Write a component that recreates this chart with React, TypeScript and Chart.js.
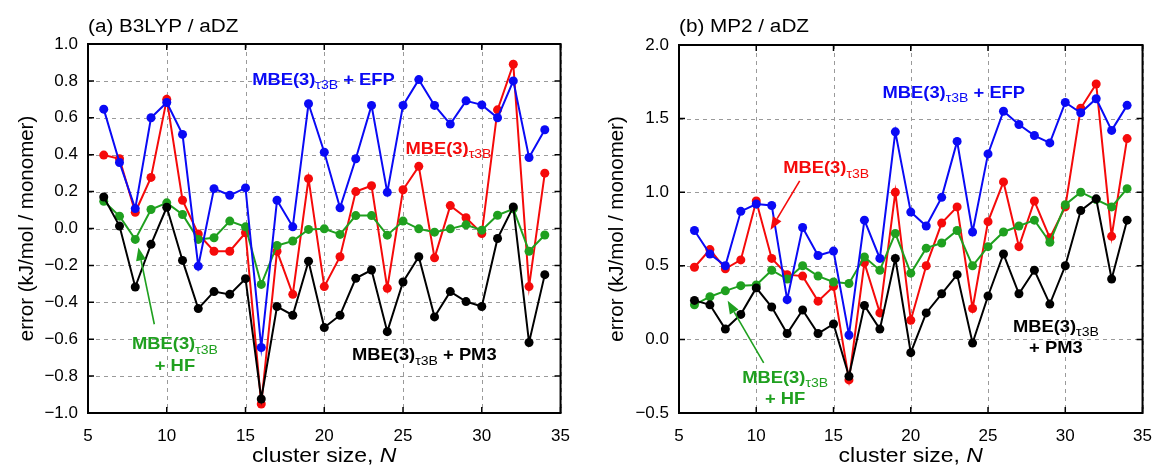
import React, { useEffect, useRef } from "react";
import { Chart, registerables } from "chart.js";

Chart.register(...registerables);

// ---------------- data ----------------
const clusterSizes = [6, 7, 8, 9, 10, 11, 12, 13, 14, 15, 16, 17, 18, 19, 20, 21, 22, 23, 24, 25, 26, 27, 28, 29, 30, 31, 32, 33, 34];

// (a) B3LYP / aDZ
const b3lypEFP = [0.647, 0.358, 0.108, 0.60, 0.683, 0.51, -0.204, 0.216, 0.18, 0.22, -0.645, 0.153, 0.009, 0.676, 0.413, 0.112, 0.378, 0.667, 0.196, 0.667, 0.807, 0.667, 0.566, 0.692, 0.67, 0.60, 0.80, 0.385, 0.535];
const b3lypTau = [0.398, 0.378, 0.088, 0.277, 0.70, 0.153, -0.03, -0.123, -0.123, -0.023, -0.951, -0.123, -0.357, 0.27, -0.315, -0.153, 0.20, 0.232, -0.324, 0.21, 0.337, -0.159, 0.124, 0.058, -0.027, 0.643, 0.89, -0.315, 0.30];
const b3lypHF = [0.148, 0.067, -0.059, 0.103, 0.139, 0.076, -0.059, -0.05, 0.04, 0.009, -0.303, -0.092, -0.068, -0.005, -0.002, -0.032, 0.07, 0.07, -0.036, 0.04, -0.002, -0.02, -0.002, 0.02, -0.009, 0.072, 0.106, -0.123, -0.035];
const b3lypPM3 = [0.171, 0.013, -0.317, -0.086, 0.115, -0.173, -0.434, -0.342, -0.357, -0.272, -0.924, -0.423, -0.47, -0.177, -0.537, -0.47, -0.27, -0.225, -0.559, -0.29, -0.153, -0.479, -0.342, -0.396, -0.423, -0.054, 0.117, -0.618, -0.25];

// (b) MP2 / aDZ
const mp2EFP = [0.74, 0.58, 0.50, 0.87, 0.92, 0.91, 0.27, 0.76, 0.57, 0.60, 0.03, 0.81, 0.55, 1.41, 0.865, 0.77, 0.965, 1.345, 0.73, 1.26, 1.55, 1.46, 1.385, 1.335, 1.61, 1.54, 1.635, 1.42, 1.59];
const mp2Tau = [0.49, 0.61, 0.48, 0.54, 0.94, 0.55, 0.44, 0.43, 0.26, 0.36, -0.275, 0.52, 0.18, 1.00, 0.13, 0.50, 0.79, 0.90, 0.21, 0.80, 1.07, 0.63, 0.94, 0.69, 0.90, 1.57, 1.735, 0.70, 1.364];
const mp2HF = [0.235, 0.29, 0.33, 0.365, 0.37, 0.47, 0.41, 0.50, 0.43, 0.39, 0.38, 0.56, 0.47, 0.72, 0.45, 0.62, 0.655, 0.74, 0.50, 0.63, 0.73, 0.77, 0.81, 0.66, 0.915, 1.00, 0.95, 0.90, 1.024];
const mp2PM3 = [0.265, 0.235, 0.07, 0.17, 0.35, 0.22, 0.04, 0.20, 0.04, 0.105, -0.25, 0.23, 0.07, 0.55, -0.09, 0.18, 0.31, 0.44, -0.025, 0.295, 0.58, 0.31, 0.47, 0.24, 0.50, 0.875, 0.955, 0.41, 0.81];

const xTicks = [5, 10, 15, 20, 25, 30, 35];
const yTicksA = [-1.0, -0.8, -0.6, -0.4, -0.2, 0.0, 0.2, 0.4, 0.6, 0.8, 1.0];
const yTicksB = [-0.5, 0.0, 0.5, 1.0, 1.5, 2.0];

const panelTitles = ["(a) B3LYP / aDZ", "(b) MP2 / aDZ"];
const yAxisTitle = "error (kJ/mol / monomer)";
const xAxisTitle = "cluster size, ";
const xAxisVar = "N";

// ---------------- styles ----------------
const FONT = '"Liberation Sans", Arial, Helvetica, sans-serif';
const BLUE = "#0a0af5";
const RED = "#f50a0a";
const GREEN = "#1fa01f";
const BLACK = "#000000";
const HS = 1.15; // horizontal stretch of the reference text

type Seg = { t: string; sub?: boolean };
type Label = { x: number; y: number; color: string; align: "left" | "center"; lines: Seg[][] };
type Arrow = { x1: number; y1: number; x2: number; y2: number; color: string };

const mbe = (tail: string): Seg[] => [{ t: "MBE(3)" }, { t: "τ3B", sub: true }, { t: tail }];

const labelsA: Label[] = [
  { x: 15.42, y: 0.78, color: BLUE, align: "left", lines: [mbe(" + EFP")] },
  { x: 25.15, y: 0.405, color: RED, align: "left", lines: [mbe("")] },
  { x: 10.52, y: -0.654, color: GREEN, align: "center", lines: [mbe(""), [{ t: "+ HF" }]] },
  { x: 21.76, y: -0.714, color: BLACK, align: "left", lines: [mbe(" + PM3")] },
];
const arrowsA: Arrow[] = [{ x1: 9.21, y1: -0.519, x2: 8.2, y2: -0.103, color: GREEN }];

const labelsB: Label[] = [
  { x: 18.17, y: 1.64, color: BLUE, align: "left", lines: [mbe(" + EFP")] },
  { x: 11.74, y: 1.13, color: RED, align: "left", lines: [mbe("")] },
  { x: 11.87, y: -0.296, color: GREEN, align: "center", lines: [mbe(""), [{ t: "+ HF" }]] },
  { x: 29.39, y: 0.051, color: BLACK, align: "center", lines: [mbe(""), [{ t: "+ PM3" }]] },
];
const arrowsB: Arrow[] = [
  { x1: 12.81, y1: 1.077, x2: 10.92, y2: 0.744, color: RED },
  { x1: 10.48, y1: -0.16, x2: 8.15, y2: 0.262, color: GREEN },
];

type PanelCfg = {
  title: string;
  yMin: number;
  yMax: number;
  yTicks: number[];
  series: { data: number[]; color: string }[];
  labels: Label[];
  arrows: Arrow[];
  width: number;
  yAxisWidth: number;
  padRight: number;
  padTop: number;
  yTitleX: number;
};

function fmt(v: number): string {
  if (Math.abs(v) < 1e-9) return "0.0";
  const s = Math.abs(v).toFixed(1);
  return v < 0 ? "\u2212" + s : s;
}

function stretchText(ctx: CanvasRenderingContext2D, t: string, x: number, y: number, s: number) {
  ctx.save();
  ctx.translate(x, y);
  ctx.scale(s, 1);
  ctx.fillText(t, 0, 0);
  ctx.restore();
}

function drawRichLine(ctx: CanvasRenderingContext2D, segs: Seg[], x: number, y: number, align: string) {
  const big = `bold 17px ${FONT}`;
  const small = `13px ${FONT}`;
  const s = 1.08;
  let total = 0;
  for (const g of segs) {
    ctx.font = g.sub ? small : big;
    total += ctx.measureText(g.t).width * s;
  }
  let cx = align === "center" ? x - total / 2 : x;
  ctx.textAlign = "left";
  ctx.textBaseline = "alphabetic";
  for (const g of segs) {
    ctx.font = g.sub ? small : big;
    stretchText(ctx, g.t, cx, g.sub ? y + 4.5 : y, s);
    cx += ctx.measureText(g.t).width * s;
  }
}

function makePlugin(cfg: PanelCfg) {
  return {
    id: "panelDecor",
    beforeDatasetsDraw(chart: any) {
      const { ctx, chartArea: a, scales } = chart;
      const xs = scales.x;
      const ys = scales.y;
      ctx.save();
      ctx.strokeStyle = "#9a9a9a";
      ctx.lineWidth = 1;
      ctx.setLineDash([4, 4]);
      for (const v of xTicks) {
        const px = Math.round(xs.getPixelForValue(v)) + 0.5;
        ctx.beginPath();
        ctx.moveTo(px, a.top);
        ctx.lineTo(px, a.bottom);
        ctx.stroke();
      }
      for (const v of cfg.yTicks) {
        const py = Math.round(ys.getPixelForValue(v)) + 0.5;
        ctx.beginPath();
        ctx.moveTo(a.left, py);
        ctx.lineTo(a.right, py);
        ctx.stroke();
      }
      ctx.restore();
    },
    afterDraw(chart: any) {
      const { ctx, chartArea: a, scales } = chart;
      const xs = scales.x;
      const ys = scales.y;
      ctx.save();
      // inward ticks
      ctx.strokeStyle = "#000";
      ctx.lineWidth = 1.5;
      ctx.setLineDash([]);
      const tl = 6;
      for (const v of xTicks) {
        const px = xs.getPixelForValue(v);
        ctx.beginPath();
        ctx.moveTo(px, a.bottom);
        ctx.lineTo(px, a.bottom - tl);
        ctx.moveTo(px, a.top);
        ctx.lineTo(px, a.top + tl);
        ctx.stroke();
      }
      for (const v of cfg.yTicks) {
        const py = ys.getPixelForValue(v);
        ctx.beginPath();
        ctx.moveTo(a.left, py);
        ctx.lineTo(a.left + tl, py);
        ctx.moveTo(a.right, py);
        ctx.lineTo(a.right - tl, py);
        ctx.stroke();
      }
      // frame
      ctx.lineWidth = 2;
      ctx.strokeRect(a.left, a.top, a.right - a.left, a.bottom - a.top);

      // panel title
      ctx.fillStyle = "#000";
      ctx.font = `18px ${FONT}`;
      ctx.textAlign = "left";
      ctx.textBaseline = "alphabetic";
      stretchText(ctx, cfg.title, a.left, 32, HS);

      // x axis title
      ctx.font = `20px ${FONT}`;
      const w1 = ctx.measureText(xAxisTitle).width * HS;
      ctx.font = `italic 20px ${FONT}`;
      const w2 = ctx.measureText(xAxisVar).width * HS;
      const cx = (a.left + a.right) / 2 - (w1 + w2) / 2;
      ctx.font = `20px ${FONT}`;
      stretchText(ctx, xAxisTitle, cx, 462, HS);
      ctx.font = `italic 20px ${FONT}`;
      stretchText(ctx, xAxisVar, cx + w1, 462, HS);

      // y axis title
      ctx.save();
      ctx.translate(cfg.yTitleX, (a.top + a.bottom) / 2);
      ctx.rotate(-Math.PI / 2);
      ctx.font = `20.5px ${FONT}`;
      ctx.textAlign = "center";
      ctx.textBaseline = "middle";
      ctx.fillText(yAxisTitle, 0, 0);
      ctx.restore();

      // annotations
      for (const lb of cfg.labels) {
        ctx.fillStyle = lb.color;
        const px = xs.getPixelForValue(lb.x);
        const py = ys.getPixelForValue(lb.y);
        lb.lines.forEach((segs, i) => drawRichLine(ctx, segs, px, py + i * 21.5, lb.align));
      }
      // arrows
      for (const ar of cfg.arrows) {
        const x1 = xs.getPixelForValue(ar.x1);
        const y1 = ys.getPixelForValue(ar.y1);
        const x2 = xs.getPixelForValue(ar.x2);
        const y2 = ys.getPixelForValue(ar.y2);
        const ang = Math.atan2(y2 - y1, x2 - x1);
        const hl = 13;
        const hw = 5;
        const bx = x2 - hl * Math.cos(ang);
        const by = y2 - hl * Math.sin(ang);
        ctx.strokeStyle = ar.color;
        ctx.fillStyle = ar.color;
        ctx.lineWidth = 1.6;
        ctx.beginPath();
        ctx.moveTo(x1, y1);
        ctx.lineTo(bx, by);
        ctx.stroke();
        ctx.beginPath();
        ctx.moveTo(x2, y2);
        ctx.lineTo(bx + hw * Math.sin(ang), by - hw * Math.cos(ang));
        ctx.lineTo(bx - hw * Math.sin(ang), by + hw * Math.cos(ang));
        ctx.closePath();
        ctx.fill();
      }
      ctx.restore();
    },
  };
}

function Panel({ cfg, left }: { cfg: PanelCfg; left: number }) {
  const ref = useRef<HTMLCanvasElement | null>(null);
  useEffect(() => {
    if (!ref.current) return;
    const chart = new Chart(ref.current, {
      type: "line",
      data: {
        datasets: cfg.series.map((s) => ({
          data: clusterSizes.map((n, i) => ({ x: n, y: s.data[i] })),
          borderColor: s.color,
          backgroundColor: s.color,
          borderWidth: 2,
          pointRadius: 4.5,
          pointBorderWidth: 0,
          pointBackgroundColor: s.color,
          tension: 0,
        })),
      },
      options: {
        responsive: false,
        animation: false,
        devicePixelRatio: 1,
        layout: { padding: { left: 0, right: cfg.padRight, top: cfg.padTop, bottom: 0 } },
        plugins: { legend: { display: false }, tooltip: { enabled: false }, title: { display: false } },
        scales: {
          x: {
            type: "linear",
            min: 5,
            max: 35,
            afterBuildTicks: (sc: any) => {
              sc.ticks = xTicks.map((v) => ({ value: v }));
            },
            afterFit: (sc: any) => {
              sc.height = 55;
            },
            grid: { display: false, drawTicks: false },
            border: { display: false },
            ticks: {
              padding: 13,
              color: "#000",
              font: { family: FONT, size: 17 },
              maxRotation: 0,
              autoSkip: false,
              callback: (v: any) => String(v),
            },
          },
          y: {
            type: "linear",
            min: cfg.yMin,
            max: cfg.yMax,
            afterBuildTicks: (sc: any) => {
              sc.ticks = cfg.yTicks.map((v) => ({ value: v }));
            },
            afterFit: (sc: any) => {
              sc.width = cfg.yAxisWidth;
            },
            grid: { display: false, drawTicks: false },
            border: { display: false },
            ticks: {
              padding: 10,
              color: "#000",
              font: { family: FONT, size: 17 },
              autoSkip: false,
              callback: (v: any) => fmt(Number(v)),
            },
          },
        },
      },
      plugins: [makePlugin(cfg)],
    } as any);
    return () => chart.destroy();
  }, []);
  return (
    <canvas
      ref={ref}
      width={cfg.width}
      height={468}
      style={{ position: "absolute", left, top: 0, width: cfg.width, height: 468, display: "block" }}
    />
  );
}

const panelA: PanelCfg = {
  title: panelTitles[0],
  yMin: -1,
  yMax: 1,
  yTicks: yTicksA,
  series: [
    { data: b3lypPM3, color: BLACK },
    { data: b3lypEFP, color: BLUE },
    { data: b3lypHF, color: GREEN },
    { data: b3lypTau, color: RED },
  ],
  labels: labelsA,
  arrows: arrowsA,
  width: 583,
  yAxisWidth: 88,
  padRight: 18,
  padTop: 44,
  yTitleX: 27,
};

const panelB: PanelCfg = {
  title: panelTitles[1],
  yMin: -0.5,
  yMax: 2.0,
  yTicks: yTicksB,
  series: [
    { data: mp2PM3, color: BLACK },
    { data: mp2EFP, color: BLUE },
    { data: mp2HF, color: GREEN },
    { data: mp2Tau, color: RED },
  ],
  labels: labelsB,
  arrows: arrowsB,
  width: 582,
  yAxisWidth: 96,
  padRight: 10,
  padTop: 45,
  yTitleX: 34,
};

export default function App() {
  return (
    <div style={{ position: "absolute", left: 0, top: 0, width: 1165, height: 468, background: "#fff" }}>
      <Panel cfg={panelA} left={0} />
      <Panel cfg={panelB} left={583} />
    </div>
  );
}
